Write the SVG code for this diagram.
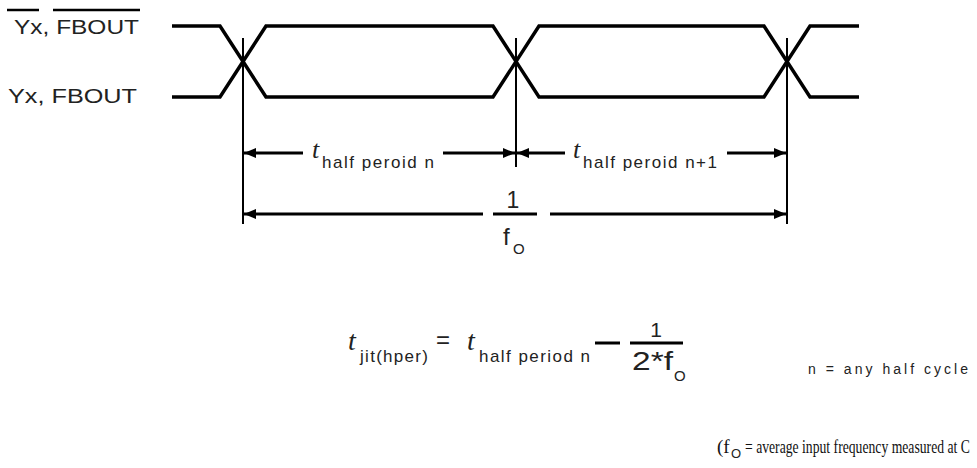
<svg xmlns="http://www.w3.org/2000/svg" width="977" height="468" viewBox="0 0 977 468">
<defs>
<style>
.sig{fill:none;stroke:#000;stroke-width:3.5;stroke-linejoin:miter}
.ref{fill:none;stroke:#000;stroke-width:2}
.dim{fill:none;stroke:#000;stroke-width:3}
.sans{font-family:"Liberation Sans",Arial,sans-serif;fill:#222}
.ti{font-family:"Liberation Serif","Times New Roman",serif;font-style:italic;fill:#222}
.serif{font-family:"Liberation Serif","Times New Roman",serif;fill:#111}
</style>
<marker id="ah" viewBox="0 0 12 10" refX="12" refY="5" markerWidth="12" markerHeight="10" markerUnits="userSpaceOnUse" orient="auto-start-reverse">
<path d="M0,0 L12,5 L0,10 Z" fill="#000"/>
</marker>
</defs>
<g id="label-inv">
<text class="sans" x="14" y="34" font-size="20" textLength="125" lengthAdjust="spacingAndGlyphs">Yx, FBOUT</text>
<line x1="7" y1="10" x2="39" y2="10" stroke="#000" stroke-width="2.5"/>
<line x1="53" y1="10" x2="140" y2="10" stroke="#000" stroke-width="2.5"/>
</g>
<g id="label-true">
<text class="sans" x="8" y="103" font-size="20" textLength="129" lengthAdjust="spacingAndGlyphs">Yx, FBOUT</text>
</g>
<g id="signal-inv">
<path class="sig" d="M172,26 H220 L266,97 H493 L539,26 H764 L810,97 H859"/>
</g>
<g id="signal-true">
<path class="sig" d="M172,97 H220 L266,26 H493 L539,97 H764 L810,26 H859"/>
</g>
<g id="connectors">
<line class="ref" x1="243" y1="38" x2="243" y2="224"/>
<line class="ref" x1="516" y1="38" x2="516" y2="167"/>
<line class="ref" x1="787" y1="38" x2="787" y2="224"/>
<line class="dim" x1="303" y1="153" x2="244" y2="153" marker-end="url(#ah)"/>
<line class="dim" x1="443" y1="153" x2="515" y2="153" marker-end="url(#ah)"/>
<line class="dim" x1="565" y1="153" x2="517" y2="153" marker-end="url(#ah)"/>
<line class="dim" x1="727" y1="153" x2="786" y2="153" marker-end="url(#ah)"/>
<line class="dim" x1="483" y1="214" x2="244" y2="214" marker-end="url(#ah)"/>
<line class="dim" x1="550" y1="214" x2="786" y2="214" marker-end="url(#ah)"/>
</g>
<g id="half-n">
<text class="ti" x="312" y="158" font-size="26">t</text>
<text class="sans" x="322" y="168" font-size="17" textLength="112" lengthAdjust="spacing">half peroid n</text>
</g>
<g id="half-n1">
<text class="ti" x="573" y="158" font-size="26">t</text>
<text class="sans" x="583" y="168" font-size="17" textLength="134" lengthAdjust="spacing">half peroid n+1</text>
</g>
<g id="period">
<text class="sans" x="513" y="208" font-size="23" text-anchor="middle">1</text>
<line x1="493" y1="214" x2="537" y2="214" stroke="#000" stroke-width="3"/>
<text class="sans" x="503" y="245" font-size="24">f</text>
<text class="sans" x="513" y="254" font-size="15">O</text>
</g>
<g id="formula">
<text class="ti" x="348" y="350" font-size="28">t</text>
<text class="sans" x="360" y="362" font-size="17" textLength="68" lengthAdjust="spacing">jit(hper)</text>
<text class="sans" x="436" y="348" font-size="24">=</text>
<text class="ti" x="467" y="350" font-size="28">t</text>
<text class="sans" x="479" y="362" font-size="17" textLength="111" lengthAdjust="spacing">half period n</text>
<line x1="595" y1="343" x2="620" y2="343" stroke="#000" stroke-width="3"/>
<text class="sans" x="656" y="337" font-size="21" text-anchor="middle">1</text>
<line x1="630" y1="343" x2="683" y2="343" stroke="#000" stroke-width="3"/>
<text class="sans" x="632" y="370" font-size="25" textLength="41" lengthAdjust="spacingAndGlyphs">2*f</text>
<text class="sans" x="674" y="381" font-size="15">O</text>
</g>
<g id="note">
<text class="sans" x="808" y="374" font-size="14" textLength="160" lengthAdjust="spacing">n = any half cycle</text>
</g>
<g id="footnote">
<text class="serif" x="717" y="453" font-size="19">(f</text>
<text class="sans" x="731" y="458" font-size="13">O</text>
<text class="serif" transform="translate(745,453) scale(0.72,1)" x="0" y="0" font-size="19">= average input frequency measured at C</text>
</g>
</svg>
